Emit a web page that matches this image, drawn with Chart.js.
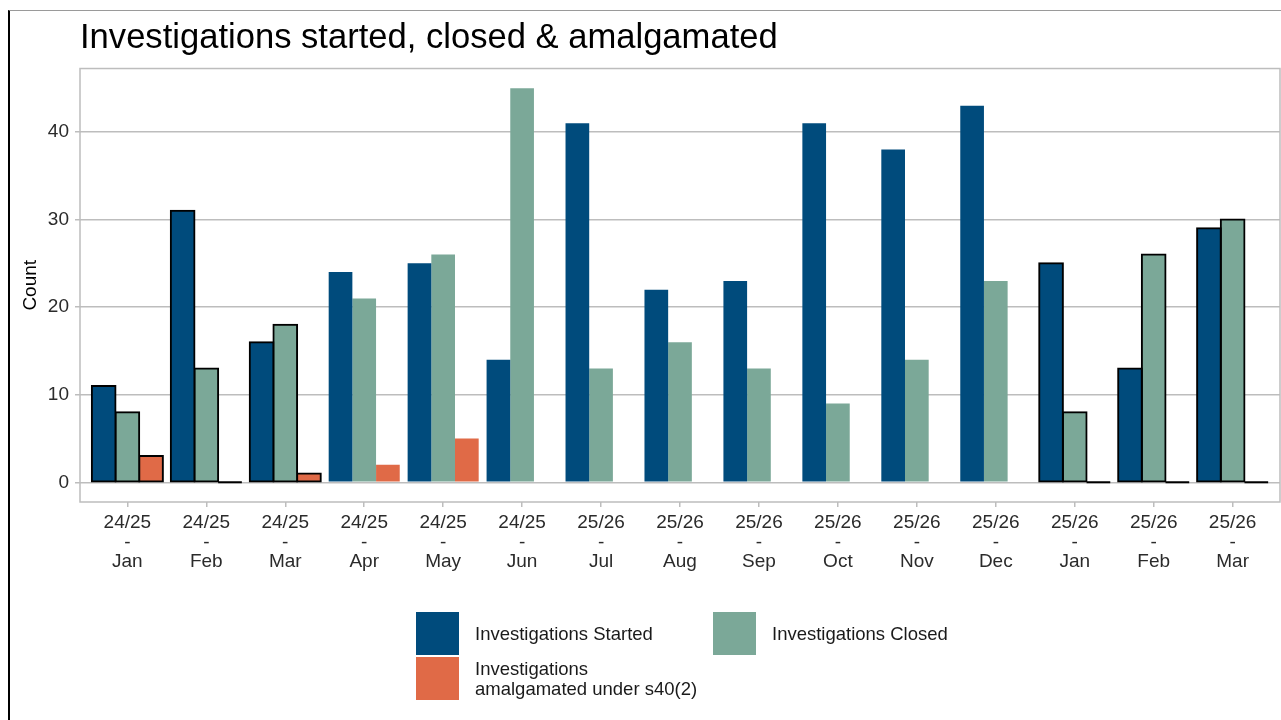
<!DOCTYPE html>
<html>
<head>
<meta charset="utf-8">
<script src="https://cdn.jsdelivr.net/npm/chart.js@4.4.1/dist/chart.umd.min.js"></script>
<style>
  html, body { margin: 0; padding: 0; background: #fff; }
  body { width: 1281px; height: 720px; position: relative; overflow: hidden; font-family: "Liberation Sans", Arial, sans-serif; }
  #frame { position: absolute; left: 8px; top: 10px; right: 0; bottom: 0; border-left: 2px solid #000; border-top: 1px solid #9a9a9a; }
  #chart { position: absolute; left: 0; top: 0; }
  .lg-key { position: absolute; width: 43px; height: 43px; }
  .lg-text { position: absolute; font-size: 18.5px; line-height: 20px; color: #1a1a1a; white-space: pre-line; transform: translateY(-50%); }
</style>
</head>
<body>
<div id="frame"></div>
<canvas id="chart" width="1281" height="720"></canvas>
<div id="legend"></div>
<script>
// ---- data ----
const fiscalYears = ['24/25','24/25','24/25','24/25','24/25','24/25','25/26','25/26','25/26','25/26','25/26','25/26','25/26','25/26','25/26'];
const months = ['Jan','Feb','Mar','Apr','May','Jun','Jul','Aug','Sep','Oct','Nov','Dec','Jan','Feb','Mar'];
const started = [11, 31, 16, 24, 25, 14, 41, 22, 23, 41, 38, 43, 25, 13, 29];
const closed = [8, 13, 18, 21, 26, 45, 13, 16, 13, 9, 14, 23, 8, 26, 30];
const amalgamated = [3, 0, 1, 2, 5, 0, 0, 0, 0, 0, 0, 0, 0, 0, 0];
const yTicks = [0, 10, 20, 30, 40];
const seriesNames = ['Investigations Started', 'Investigations Closed', 'Investigations\namalgamated under s40(2)'];

// ---- styles ----
const seriesColors = ['#004b7c', '#7ba898', '#e06a47'];
const outlinedMonths = [0, 1, 2, 12, 13, 14];
const FONT = "'Liberation Sans', Arial, sans-serif";
const GRID = '#bdbdbd';

Chart.defaults.font.family = FONT;

function makeDataset(label, values, color) {
  return {
    label: label,
    data: values.map((v, i) => ({ x: i, y: v })),
    backgroundColor: ctx => {
      const v = ctx.raw ? ctx.raw.y : null;
      if (v === 0) return outlinedMonths.includes(ctx.dataIndex) ? '#000' : 'rgba(0,0,0,0)';
      return color;
    },
    borderColor: '#000',
    borderWidth: ctx => (outlinedMonths.includes(ctx.dataIndex) && ctx.raw && ctx.raw.y !== 0) ? 2 : 0,
    borderSkipped: false,
    inflateAmount: ctx => (outlinedMonths.includes(ctx.dataIndex) && ctx.raw && ctx.raw.y !== 0) ? 1 : 0,
    minBarLength: 2,
    categoryPercentage: 0.9,
    barPercentage: 1.0
  };
}

const panelBorder = {
  id: 'panelBorder',
  afterDatasetsDraw(chart) {
    const { ctx, chartArea: a } = chart;
    ctx.save();
    ctx.strokeStyle = GRID;
    ctx.lineWidth = 1.5;
    ctx.strokeRect(a.left, a.top, a.right - a.left, a.bottom - a.top);
    ctx.restore();
  }
};

const chart = new Chart(document.getElementById('chart'), {
  type: 'bar',
  data: {
    datasets: [
      makeDataset(seriesNames[0], started, seriesColors[0]),
      makeDataset(seriesNames[1], closed, seriesColors[1]),
      makeDataset(seriesNames[2], amalgamated, seriesColors[2])
    ]
  },
  plugins: [panelBorder],
  options: {
    responsive: false,
    animation: false,
    layout: { padding: { top: 10, left: 10, right: 1, bottom: 138 } },
    plugins: {
      legend: { display: false },
      tooltip: { enabled: false },
      title: {
        display: true,
        text: 'Investigations started, closed & amalgamated',
        align: 'start',
        fullSize: false,
        color: '#000',
        font: { family: FONT, size: 34.6, weight: 'normal' },
        padding: { top: 8, bottom: 9 }
      }
    },
    scales: {
      x: {
        type: 'linear',
        min: -0.6,
        max: 14.6,
        offset: false,
        afterBuildTicks: s => { s.ticks = months.map((_, i) => ({ value: i })); },
        afterFit: s => { s.height = 80; },
        grid: { display: true, drawOnChartArea: false, drawTicks: true, tickLength: 5, tickColor: GRID, color: GRID, lineWidth: 1.5, offset: false },
        border: { display: false },
        ticks: {
          autoSkip: false,
          maxRotation: 0,
          minRotation: 0,
          padding: 6,
          color: '#2b2b2b',
          font: { family: FONT, size: 19, lineHeight: 1.03 },
          callback: v => [fiscalYears[v], '-', months[v]]
        }
      },
      y: {
        min: -2.25,
        max: 47.25,
        afterBuildTicks: s => { s.ticks = yTicks.map(v => ({ value: v })); },
        afterFit: s => { s.width = 70; },
        grid: { color: GRID, lineWidth: 1.5, tickLength: 5, tickColor: GRID, drawTicks: true },
        border: { display: false },
        ticks: { padding: 6, color: '#2b2b2b', font: { family: FONT, size: 19 } },
        title: { display: true, text: 'Count', color: '#000', font: { family: FONT, size: 19 }, padding: { top: 9, bottom: 0 } }
      }
    }
  }
});

// ---- HTML legend built from the chart's datasets ----
const legendSlots = [
  { kx: 416, ky: 612, tx: 475, ty: 633.5 },
  { kx: 713, ky: 612, tx: 772, ty: 633.5 },
  { kx: 416, ky: 657, tx: 475, ty: 679 }
];
const legendEl = document.getElementById('legend');
chart.data.datasets.forEach((ds, i) => {
  const s = legendSlots[i];
  const key = document.createElement('div');
  key.className = 'lg-key';
  key.style.left = s.kx + 'px';
  key.style.top = s.ky + 'px';
  key.style.background = seriesColors[i];
  legendEl.appendChild(key);
  const t = document.createElement('div');
  t.className = 'lg-text';
  t.style.left = s.tx + 'px';
  t.style.top = s.ty + 'px';
  t.textContent = ds.label;
  legendEl.appendChild(t);
});
</script>
</body>
</html>
